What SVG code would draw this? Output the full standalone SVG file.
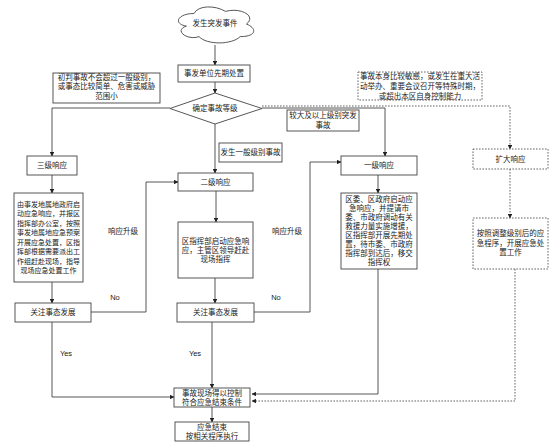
<svg xmlns="http://www.w3.org/2000/svg" width="560" height="447" viewBox="0 0 560 447">
<defs>
<marker id="ah" viewBox="0 0 10 10" refX="9" refY="5" markerWidth="4.5" markerHeight="4.5" orient="auto" markerUnits="userSpaceOnUse"><path d="M0,0 L10,5 L0,10 Z" fill="#222"/></marker>
<style>
.b{fill:#fff;stroke:#444;stroke-width:0.9}
.d{fill:#fff;stroke:#555;stroke-width:0.9;stroke-dasharray:1.6 1.4}
.n{fill:none;stroke:#444;stroke-width:0.9}
.c{fill:none;stroke:#444;stroke-width:0.9;marker-end:url(#ah)}
.cd{fill:none;stroke:#555;stroke-width:0.9;stroke-dasharray:1.6 1.4;marker-end:url(#ah)}
text{font-family:"Liberation Sans","Noto Sans CJK SC",sans-serif;font-size:7.5px;fill:#222;text-anchor:middle;dominant-baseline:central}
.s{font-size:7px}
</style>
</defs>
<rect width="560" height="447" fill="#fff"/>
<g id="connectors">
<path class="c" d="M215,45 V65"/>
<path class="c" d="M215,82 V93"/>
<path class="c" d="M170,108 H52 V156"/>
<path class="c" d="M215,124 V173"/>
<path class="c" d="M262,108 H385 V156"/>
<path class="cd" d="M262,106 H510 V149"/>
<path class="c" d="M52,175 V193"/>
<path class="c" d="M52,282 V303"/>
<path class="c" d="M91,312 H146 V182 H178"/>
<path class="c" d="M216,191 V222"/>
<path class="c" d="M215,278 V303"/>
<path class="c" d="M254,312 H310 V162 H341"/>
<path class="c" d="M378,175 V193"/>
<path class="c" d="M378,269 V394 H252"/>
<path class="cd" d="M510,169 V218"/>
<path class="cd" d="M515,269 V401 H252"/>
<path class="c" d="M52,322 V397 H174"/>
<path class="c" d="M212,322 V388"/>
<path class="c" d="M212,407 V422"/>
<text x="123" y="231">响应升级</text>
<text x="115" y="297">No</text>
<text x="287" y="231">响应升级</text>
<text x="276" y="297">No</text>
<text x="66" y="353">Yes</text>
<text x="195" y="353">Yes</text>
</g>
<g id="start">
<path class="b" d="M194,13.5 C177.2,13.5 173,24 186.4,26.1 C173,30.7 188.1,40.8 199,36.6 C206.6,45 231.8,45 240.2,36.6 C257,36.6 257,28.2 246.5,24 C257,15.6 240.2,7.2 225.5,11.4 C215,5.1 198.2,5.1 194,13.5 Z"/>
<text x="215" y="23">发生突发事件</text>
</g>
<g id="first">
<rect class="b" x="178" y="65" width="72" height="17"/>
<text x="214" y="73.5">事发单位先期处置</text>
</g>
<g id="decide">
<path class="b" d="M215,93 L262,108.5 L215,124 L170,108.5 Z"/>
<text x="215" y="108.5">确定事故等级</text>
</g>
<g id="note1">
<rect class="b" x="53" y="73" width="107" height="30"/>
<text x="106.5" y="77">初判事故不会超过一般级别，</text>
<text x="106.5" y="86.5">或事态比较简单、危害或威胁</text>
<text x="106.5" y="96">范围小</text>
</g>
<g id="note2">
<rect class="d" x="358" y="72" width="124" height="28"/>
<text x="420" y="76">事故本身比较敏感，或发生在重大活</text>
<text x="420" y="86">动举办、重要会议召开等特殊时期，</text>
<text x="420" y="96">或超出本区自身控制能力</text>
</g>
<g id="label-major">
<rect class="b" x="287" y="110" width="72" height="21"/>
<text x="323" y="115.5">较大及以上级别突发</text>
<text x="323" y="125.5">事故</text>
</g>
<g id="label-general">
<rect class="b" x="219" y="143" width="63" height="19"/>
<text x="250.5" y="152.5">发生一般级别事故</text>
</g>
<g id="level3">
<rect class="b" x="27" y="156" width="50" height="19"/>
<text x="52" y="165.5">三级响应</text>
</g>
<g id="level3-detail">
<rect class="b" x="14" y="193" width="69" height="89"/>
<text class="s" x="48.5" y="204">由事发地属地政府启</text>
<text class="s" x="48.5" y="213.5">动应急响应，并报区</text>
<text class="s" x="48.5" y="223">指挥部办公室，按照</text>
<text class="s" x="48.5" y="232.5">事发地属地应急预案</text>
<text class="s" x="48.5" y="242">开展应急处置，区指</text>
<text class="s" x="48.5" y="251.5">挥部根据需要派出工</text>
<text class="s" x="48.5" y="261">作组赶赴现场，指导</text>
<text class="s" x="48.5" y="270.5">现场应急处置工作</text>
</g>
<g id="watch-left">
<rect class="b" x="15" y="303" width="76" height="19"/>
<text x="53" y="312.5">关注事态发展</text>
</g>
<g id="level2">
<rect class="b" x="178" y="173" width="75" height="18"/>
<text x="215.5" y="182">二级响应</text>
</g>
<g id="level2-detail">
<rect class="b" x="178" y="222" width="75" height="56"/>
<text x="215.5" y="241">区指挥部启动应急响</text>
<text x="215.5" y="250">应，主管区领导赶赴</text>
<text x="215.5" y="259">现场指挥</text>
</g>
<g id="watch-mid">
<rect class="b" x="177" y="303" width="77" height="19"/>
<text x="215.5" y="312.5">关注事态发展</text>
</g>
<g id="level1">
<rect class="b" x="341" y="156" width="76" height="19"/>
<text x="379" y="165.5">一级响应</text>
</g>
<g id="level1-detail">
<rect class="b" x="341" y="193" width="76" height="76"/>
<text x="379" y="199.3">区委、区政府启动应</text>
<text x="379" y="208.3">急响应，并提请市</text>
<text x="379" y="217.3">委、市政府调动有关</text>
<text x="379" y="226.2">救援力量实施增援，</text>
<text x="379" y="235.1">区指挥部开展先期处</text>
<text x="379" y="244.1">置，待市委、市政府</text>
<text x="379" y="253.2">指挥部到达后，移交</text>
<text x="379" y="262.4">指挥权</text>
</g>
<g id="expand">
<rect class="d" x="473" y="149" width="75" height="20"/>
<text x="510.5" y="159">扩大响应</text>
</g>
<g id="expand-detail">
<rect class="d" x="473" y="218" width="75" height="51"/>
<text x="510.5" y="233.5">按照调整级别后的应</text>
<text x="510.5" y="243">急程序，开展应急处</text>
<text x="510.5" y="252.5">置工作</text>
</g>
<g id="controlled">
<rect class="b" x="174" y="388" width="76" height="19"/>
<text x="212" y="393">事故现场得以控制</text>
<text x="212" y="402">符合应急结束条件</text>
</g>
<g id="end">
<rect class="b" x="175" y="422" width="74" height="19"/>
<text x="212" y="427">应急结束</text>
<text x="212" y="436">按相关程序执行</text>
</g>
</svg>
